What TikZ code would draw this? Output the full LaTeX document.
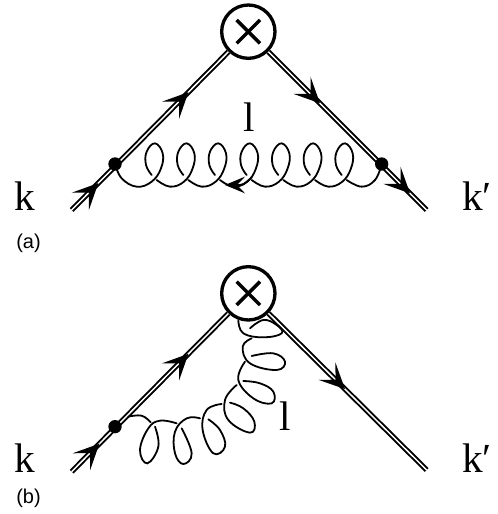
\documentclass[tikz,border=0pt]{standalone}
\usepackage{fontspec}
\setmainfont{Liberation Serif}
\setsansfont{Liberation Sans}
\usetikzlibrary{arrows.meta,decorations.markings}

\begin{document}
\begin{tikzpicture}[x=0.25pt, y=-0.25pt]
\tikzset{
  leg/.style={line width=1.45pt, double, double distance=1.1pt},
  gluon/.style={line width=1.35pt, line cap=round},
  barb/.style={postaction={decorate, decoration={markings,
    mark=at position #1 with {\arrow{Stealth[length=19pt,width=18pt,inset=9pt]}}}}},
  insertion/.style={draw, circle, fill=white, line width=2.5pt, minimum size=40pt, inner sep=0pt},
  crossline/.style={line width=2.6pt},
  vertexdot/.style={circle, fill=black, minimum size=10pt, inner sep=0pt},
  momentum/.style={font=\fontsize{31}{33}\selectfont, inner sep=0pt, anchor=base west},
  panel/.style={font=\sffamily\fontsize{15}{17}\selectfont, anchor=west, inner sep=0pt}
}
  \useasboundingbox (-180,0) rectangle (1314,1542);

  % panel a
  \node[insertion] (insa) at (565,95) {};
  \draw[crossline] (530,60) -- (600,130);
  \draw[crossline] (600,60) -- (530,130);
  \coordinate (ina) at (35,630);
  \coordinate (outa) at (1100,630);
  \draw[leg, barb=0.17, barb=0.745] (ina) -- (insa);
  \draw[leg, barb=0.326, barb=0.895] (insa) -- (outa);
  \node[vertexdot] (va) at (165,492) {};
  \node[vertexdot] (vb) at (965,492) {};
  \draw[gluon] plot[smooth, tension=0.7] coordinates {(va) (185,535) (230,560) (275,545) (303,505)
    (308,460) (285,430) (260,455) (258,495) (275,525)};
  \foreach \i in {0,...,5}
    \draw[gluon, shift={(95*\i,0)}] plot[smooth, tension=0.7] coordinates {(290,540) (330,560) (372,545)
      (398,505) (403,460) (380,430) (355,455) (353,495) (370,525)};
  \draw[gluon] plot[smooth, tension=0.7] coordinates {(860,540) (905,560) (945,540) (vb)};
  \draw[gluon, -{Stealth[length=15pt,width=12.5pt,inset=6pt]}] (575,532) .. controls (550,555) .. (495,555);
  \node[momentum, anchor=base] (la) at (568,395) {l};
  \node[momentum] (ka) at (-138,632) {k};
  \node[momentum] (kpa) at (1206,632) {k′};
  \node[panel] (capa) at (-132,729) {(a)};

  % panel b
  \begin{scope}[shift={(0,750)}]
  \node[insertion] (insb) at (565,130) {};
  \draw[crossline] (530,95) -- (600,165);
  \draw[crossline] (600,95) -- (530,165);
  \coordinate (inb) at (35,665);
  \coordinate (outb) at (1100,660);
  \draw[leg, barb=0.177, barb=0.745] (inb) -- (insb);
  \draw[leg, barb=0.484] (insb) -- (outb);
  \node[vertexdot] (vc) at (165,530) {};
  \draw[gluon] plot[smooth, tension=0.7] coordinates {(205,500) (245,497) (272,517)};
  \draw[gluon] plot[smooth, tension=0.7] coordinates {(350,520) (300,512) (265,535) (240,600) (262,640) (295,590) (285,530)};
  \draw[gluon] plot[smooth, tension=0.7] coordinates {(420,505) (380,505) (345,545) (345,610) (370,642) (395,610) (365,535)};
  \draw[gluon] plot[smooth, tension=0.7] coordinates {(485,462) (440,480) (428,540) (460,610) (495,590) (480,540) (445,508)};
  \draw[gluon] plot[smooth, tension=0.7] coordinates {(530,405) (495,450) (505,510) (570,548) (583,515) (550,475) (510,458)};
  \draw[gluon] plot[smooth, tension=0.7] coordinates {(555,335) (535,390) (580,445) (635,460) (640,425) (600,400) (550,393)};
  \draw[gluon] plot[smooth, tension=0.7] coordinates {(575,265) (548,290) (570,340) (650,360) (675,335) (640,310) (575,318)};
  \draw[gluon] plot[smooth, tension=0.7] coordinates {(535,212) (550,250) (610,262) (665,250) (650,225) (610,210) (570,235)};
  \node[momentum] (lb) at (657,540) {l};
  \node[momentum] (kb) at (-138,668) {k};
  \node[momentum] (kpb) at (1206,668) {k′};
  \node[panel] (capb) at (-132,744) {(b)};
  \end{scope}
\end{tikzpicture}
\end{document}
